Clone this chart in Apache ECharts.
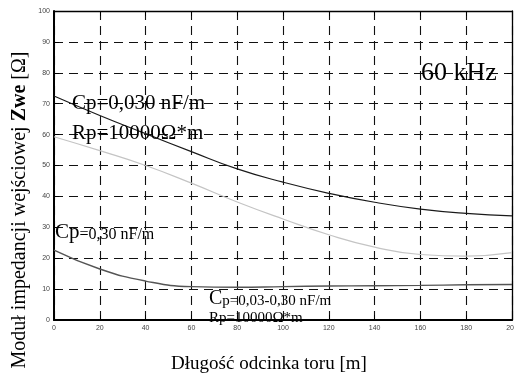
<!DOCTYPE html>
<html>
<head>
<meta charset="utf-8">
<script src="https://cdn.jsdelivr.net/npm/echarts@6/dist/echarts.min.js"></script>
<style>
html,body{margin:0;padding:0;background:#fff;}
#chart{width:514px;height:379px;}
</style>
</head>
<body>
<div id="chart"></div>
<script>
// Data
var lenX = [0, 20, 40, 60, 80, 100, 120, 140, 160, 180, 200];
var zCp003 = [72.5, 66.2, 60.3, 54.5, 48.9, 44.6, 41.0, 38.1, 35.9, 34.5, 33.7];
var zCp030 = [59.3, 54.8, 50.0, 44.3, 38.2, 32.7, 27.6, 23.6, 21.2, 20.7, 21.8];
var zCpMix = [22.6, 16.5, 12.6, 10.8, 10.6, 10.8, 11.0, 11.1, 11.2, 11.4, 11.5];

function pairs(xs, ys) { return xs.map(function (x, i) { return [x, ys[i]]; }); }

var serif = '"Liberation Serif", "Times New Roman", serif';
var sans = '"Liberation Sans", Arial, sans-serif';

var chart = echarts.init(document.getElementById('chart'), null, {renderer: 'canvas'});

var dashed = {show: true, lineStyle: {color: '#111', type: [9, 6], dashOffset: 0, width: 1.1, opacity: 1}};

var option = {
  animation: false,
  backgroundColor: '#fff',
  grid: {left: 54, right: 2, top: 11, bottom: 59, containLabel: false, outerBoundsMode: 'none'},
  xAxis: [{
    type: 'value', min: 0, max: 200, interval: 20, position: 'bottom',
    axisLine: {show: true, onZero: false, lineStyle: {color: '#000', width: 2}},
    axisTick: {show: true, inside: true, length: 5, lineStyle: {color: '#000'}},
    axisLabel: {show: true, color: '#444', fontSize: 7, fontFamily: sans, margin: 5,
      showMinLabel: true, showMaxLabel: true, hideOverlap: false},
    splitLine: dashed
  }, {
    type: 'value', min: 0, max: 200, interval: 20, position: 'top',
    axisLine: {show: true, onZero: false, lineStyle: {color: '#000', width: 1.3}},
    axisTick: {show: true, inside: true, length: 5, lineStyle: {color: '#000'}},
    axisLabel: {show: false}, splitLine: {show: false}
  }],
  yAxis: [{
    type: 'value', min: 0, max: 100, interval: 10, position: 'left',
    axisLine: {show: true, onZero: false, lineStyle: {color: '#000', width: 2}},
    axisTick: {show: true, inside: true, length: 5, lineStyle: {color: '#000'}},
    axisLabel: {show: true, color: '#444', fontSize: 7, fontFamily: sans, margin: 4,
      showMinLabel: true, showMaxLabel: true},
    splitLine: dashed
  }, {
    type: 'value', min: 0, max: 100, interval: 10, position: 'right',
    axisLine: {show: true, onZero: false, lineStyle: {color: '#000', width: 1.3}},
    axisTick: {show: true, inside: true, length: 5, lineStyle: {color: '#000'}},
    axisLabel: {show: false}, splitLine: {show: false}
  }],
  series: [
    {type: 'line', xAxisIndex: 0, yAxisIndex: 0, data: pairs(lenX, zCp003), smooth: true, symbol: 'none', z: 5,
      lineStyle: {color: '#1a1a1a', width: 1.2}},
    {type: 'line', xAxisIndex: 0, yAxisIndex: 0, data: pairs(lenX, zCp030), smooth: true, symbol: 'none', z: 5,
      lineStyle: {color: '#c4c4c4', width: 1.2}},
    {type: 'line', xAxisIndex: 0, yAxisIndex: 0, data: pairs(lenX, zCpMix), smooth: true, symbol: 'none', z: 5,
      lineStyle: {color: '#555', width: 1.4}}
  ],
  graphic: [
    {type: 'text', left: 72, top: 93, z: 100, silent: true,
      style: {text: 'Cp=0,030 nF/m', font: '21px ' + serif, fill: '#000'}},
    {type: 'text', left: 72, top: 123, z: 100, silent: true,
      style: {text: 'Rp=10000Ω*m', font: '21px ' + serif, fill: '#000'}},
    {type: 'text', left: 421, top: 60, z: 100, silent: true,
      style: {text: '60 kHz', font: '26px ' + serif, fill: '#000'}},
    {type: 'text', left: 55, top: 222, z: 100, silent: true,
      style: {text: '{a|Cp}{b|=0,30 nF/m}', rich: {
        a: {fontFamily: serif, fontSize: 21, fill: '#000', verticalAlign: 'bottom'},
        b: {fontFamily: serif, fontSize: 16, fill: '#000', verticalAlign: 'bottom'}}}},
    {type: 'text', left: 209, top: 289, z: 100, silent: true,
      style: {text: '{a|C}{b|p=0,03-0,30 nF/m}', rich: {
        a: {fontFamily: serif, fontSize: 20, fill: '#000', verticalAlign: 'bottom'},
        b: {fontFamily: serif, fontSize: 15, fill: '#000', verticalAlign: 'bottom'}}}},
    {type: 'text', left: 209, top: 311, z: 100, silent: true,
      style: {text: 'Rp=10000Ω*m', font: '15px ' + serif, fill: '#000'}},
    {type: 'text', x: 269, y: 364, z: 100, silent: true,
      style: {text: 'Długość odcinka toru [m]', font: '19px ' + serif, fill: '#000',
        textAlign: 'center', textVerticalAlign: 'middle'}},
    {type: 'text', x: 20, y: 210, rotation: Math.PI / 2, z: 100, silent: true,
      style: {text: '{a|Moduł impedancji wejściowej }{b|Zwe}{a| [Ω]}',
        textAlign: 'center', textVerticalAlign: 'middle',
        rich: {
          a: {fontFamily: serif, fontSize: 20, fill: '#000'},
          b: {fontFamily: serif, fontSize: 20, fontWeight: 'bold', fill: '#000'}}}}
  ]
};
chart.setOption(option);
</script>
</body>
</html>
